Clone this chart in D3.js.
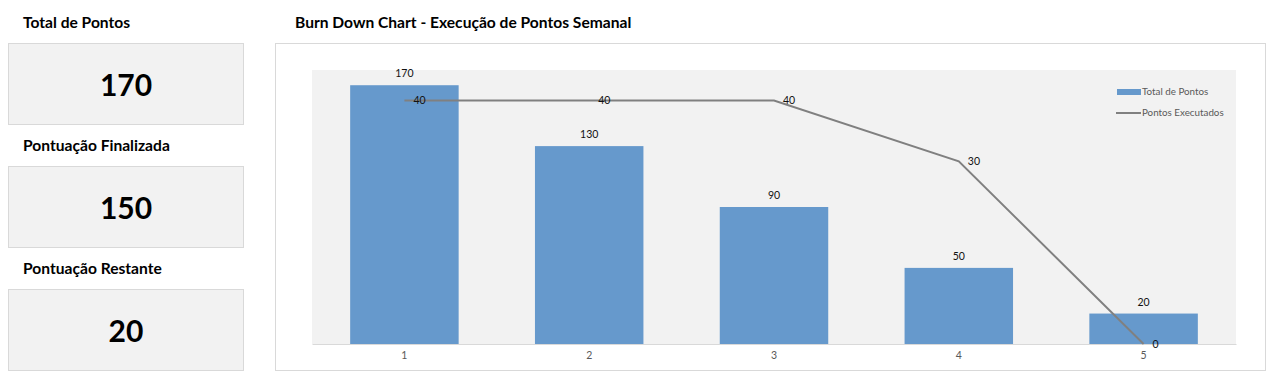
<!DOCTYPE html>
<html><head><meta charset="utf-8">
<script src="https://cdn.jsdelivr.net/npm/d3@7"></script>
<style>
body{margin:0;background:#fff;}
svg text{font-family:Lato,"Open Sans",sans-serif;}
</style></head>
<body><svg id="c" width="1279" height="381"></svg>
<script>
const categories = ["1","2","3","4","5"];
const totalPontos = [170,130,90,50,20];
const pontosExecutados = [40,40,40,30,0];
const cardLabels = ["Total de Pontos","Pontuação Finalizada","Pontuação Restante"];
const cardValues = [170,150,20];
const seriesNames = ["Total de Pontos","Pontos Executados"];
const title = "Burn Down Chart - Execução de Pontos Semanal";

const svg = d3.select("#c");

// KPI cards
const cardTop = [43,166,289];
cardLabels.forEach((lab,i)=>{
  svg.append("text").attr("x",23).attr("y",cardTop[i]-15)
    .attr("font-size",15.6).attr("font-weight","bold").attr("fill","#000").text(lab);
  svg.append("rect").attr("x",8.5).attr("y",cardTop[i]+0.5).attr("width",235).attr("height",81)
    .attr("fill","#f2f2f2").attr("stroke","#d9d9d9");
  svg.append("text").attr("x",126).attr("y",cardTop[i]+42).attr("dy","0.35em")
    .attr("text-anchor","middle").attr("font-size",30).attr("font-weight","bold").attr("fill","#000")
    .text(cardValues[i]);
});

// chart frame
svg.append("text").attr("x",295).attr("y",28).attr("font-size",15.6).attr("font-weight","bold").text(title);
svg.append("rect").attr("x",275.5).attr("y",43.5).attr("width",990).attr("height",327)
  .attr("fill","#fff").attr("stroke","#d9d9d9");

const plot = {l:312, r:1236, t:70, b:344};
svg.append("rect").attr("x",plot.l).attr("y",plot.t).attr("width",plot.r-plot.l).attr("height",plot.b-plot.t)
  .attr("fill","#f2f2f2");

const x = d3.scaleBand().domain(categories).range([plot.l,plot.r]).paddingInner(0.413).paddingOuter(0.2065);
const y = d3.scaleLinear().domain([0,180]).range([plot.b,plot.t]);
const y2 = d3.scaleLinear().domain([0,45]).range([plot.b,plot.t]);

svg.selectAll("rect.bar").data(totalPontos).join("rect").attr("class","bar")
  .attr("x",(d,i)=>x(categories[i])).attr("width",x.bandwidth())
  .attr("y",d=>y(d)).attr("height",d=>plot.b-y(d)).attr("fill","#6699cc");

svg.selectAll("text.bl").data(totalPontos).join("text").attr("class","bl")
  .attr("x",(d,i)=>x(categories[i])+x.bandwidth()/2).attr("y",d=>y(d)-8)
  .attr("text-anchor","middle").attr("font-size",10.5).attr("fill","#111").text(d=>d);

// x axis
const ax = svg.append("g").attr("transform",`translate(0,${plot.b})`)
  .call(d3.axisBottom(x).tickSize(0).tickPadding(8));
ax.select(".domain").attr("stroke","#d9d9d9").attr("stroke-width",1.2);
ax.selectAll("text").attr("font-size",10.5).attr("fill","#595959").style("font-family","Lato,sans-serif");

// line
const cx = (d,i)=>x(categories[i])+x.bandwidth()/2;
svg.append("path").datum(pontosExecutados)
  .attr("d",d3.line().x(cx).y(d=>y2(d)))
  .attr("fill","none").attr("stroke","#808080").attr("stroke-width",2);
svg.selectAll("text.ll").data(pontosExecutados).join("text").attr("class","ll")
  .attr("x",(d,i)=>cx(d,i)+9).attr("y",d=>y2(d)).attr("dy","0.35em")
  .attr("font-size",10.5).attr("fill","#111").text(d=>d);

// legend
svg.append("rect").attr("x",1117).attr("y",89).attr("width",24).attr("height",6).attr("fill","#6699cc");
svg.append("text").attr("x",1142).attr("y",92).attr("dy","0.35em").attr("font-size",9.8).attr("fill","#595959").text(seriesNames[0]);
svg.append("line").attr("x1",1116).attr("x2",1141).attr("y1",113).attr("y2",113).attr("stroke","#808080").attr("stroke-width",2);
svg.append("text").attr("x",1142).attr("y",113).attr("dy","0.35em").attr("font-size",9.8).attr("fill","#595959").text(seriesNames[1]);
</script></body></html>
